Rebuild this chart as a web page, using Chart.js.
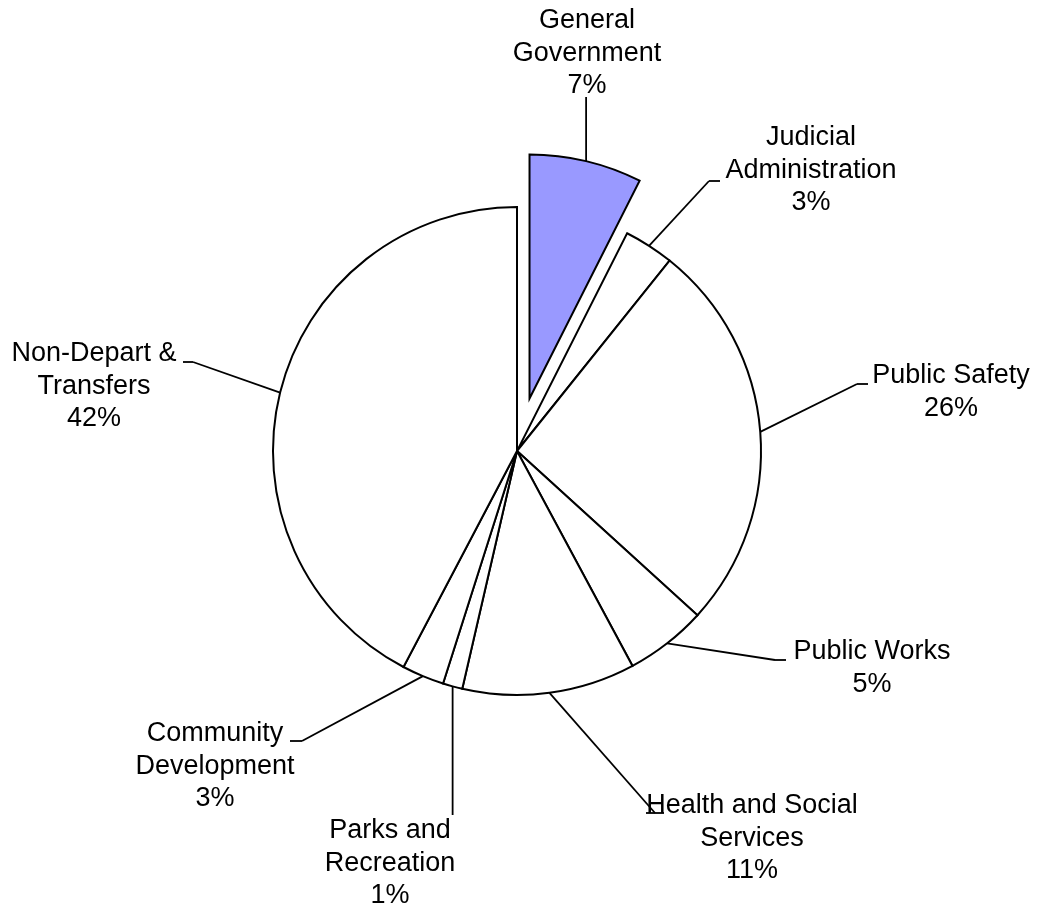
<!DOCTYPE html>
<html>
<head>
<meta charset="utf-8">
<title>General Fund Expenditures by Function</title>
<script src="https://cdn.jsdelivr.net/npm/chart.js@4/dist/chart.umd.min.js"></script>
<style>
  html, body { margin: 0; padding: 0; background: #ffffff; }
  canvas { display: block; }
</style>
</head>
<body>
<canvas id="pie" width="1039" height="909"></canvas>
<script>
// Functional areas, each wrapped onto the lines it is printed on
const categories = [
  ['General', 'Government'],
  ['Judicial', 'Administration'],
  ['Public Safety'],
  ['Public Works'],
  ['Health and Social', 'Services'],
  ['Parks and', 'Recreation'],
  ['Community', 'Development'],
  ['Non-Depart &', 'Transfers']
];

// Share of total expenditures, in percent
const shares = [7.45, 3.3, 26.0, 5.4, 11.45, 1.3, 2.8, 42.3];

// Slice pulled out of the pie (index into categories)
const explodedIndex = 0;

// ---- presentation ----
const FONT = '27px "Liberation Sans", Arial, Helvetica, sans-serif';
const LINE_H = 32.5;
const EXPLODE_PX = 54;
const fills = shares.map((_, i) => i === explodedIndex ? '#9999ff' : '#ffffff');

// Callout placement: elbow of the leader line (a null x keeps the leader
// vertical), short horizontal tick, and the centre of the first text line
const callouts = [
  { elbow: [null, 97], tick: null,       text: [587, 21] },
  { elbow: [709, 181], tick: [709, 720], text: [811, 138] },
  { elbow: [857, 384], tick: [857, 868], text: [951, 376] },
  { elbow: [775, 660], tick: [775, 786], text: [872, 652] },
  { elbow: [655, 813], tick: [646, 664], text: [752, 806] },
  { elbow: [null, 815], tick: null,      text: [390, 831] },
  { elbow: [302, 741], tick: [290, 302], text: [215, 734] },
  { elbow: [193, 362], tick: [183, 193], text: [94, 354] }
];

// Pull the exploded slice outward along its bisector while it is drawn,
// keeping its radius and angles identical to the other slices.
const explodeSlice = {
  id: 'explodeSlice',
  beforeDatasetDraw(chart, args) {
    const arc = args.meta.data[explodedIndex];
    if (!arc) return;
    const mid = (arc.startAngle + arc.endAngle) / 2;
    arc.$home = [arc.x, arc.y];
    arc.x += Math.cos(mid) * EXPLODE_PX;
    arc.y += Math.sin(mid) * EXPLODE_PX;
  },
  afterDatasetDraw(chart, args) {
    const arc = args.meta.data[explodedIndex];
    if (arc && arc.$home) {
      arc.x = arc.$home[0];
      arc.y = arc.$home[1];
      delete arc.$home;
    }
  }
};

// Leader lines and labels with the rounded percentage
const calloutLabels = {
  id: 'calloutLabels',
  afterDatasetsDraw(chart) {
    const ctx = chart.ctx;
    const meta = chart.getDatasetMeta(0);
    const values = chart.data.datasets[0].data;
    const total = values.reduce((a, b) => a + b, 0);
    ctx.save();
    ctx.strokeStyle = '#000000';
    ctx.lineWidth = 1.8;
    ctx.fillStyle = '#000000';
    ctx.font = FONT;
    ctx.textAlign = 'center';
    ctx.textBaseline = 'middle';
    meta.data.forEach((arc, i) => {
      const c = callouts[i];
      const mid = (arc.startAngle + arc.endAngle) / 2;
      const r = arc.outerRadius + (i === explodedIndex ? EXPLODE_PX : 0);
      const sx = arc.x + Math.cos(mid) * r;
      const sy = arc.y + Math.sin(mid) * r;
      const ex = c.elbow[0] === null ? sx : c.elbow[0];
      const ey = c.elbow[1];
      ctx.beginPath();
      ctx.moveTo(sx, sy);
      ctx.lineTo(ex, ey);
      ctx.stroke();
      if (c.tick) {
        ctx.beginPath();
        ctx.moveTo(c.tick[0], ey);
        ctx.lineTo(c.tick[1], ey);
        ctx.stroke();
      }
      const lines = [].concat(chart.data.labels[i]);
      lines.push(Math.round(values[i] / total * 100) + '%');
      lines.forEach((t, k) => ctx.fillText(t, c.text[0], c.text[1] + k * LINE_H));
    });
    ctx.restore();
  }
};

new Chart(document.getElementById('pie'), {
  type: 'pie',
  data: {
    labels: categories,
    datasets: [{
      data: shares,
      backgroundColor: fills,
      borderColor: '#000000',
      borderWidth: 2,
      borderJoinStyle: 'miter',
      radius: 244
    }]
  },
  options: {
    responsive: false,
    animation: false,
    events: [],
    rotation: 0,
    layout: { padding: { left: 0, right: 5, top: 0, bottom: 7 } },
    plugins: {
      legend: { display: false },
      tooltip: { enabled: false }
    }
  },
  plugins: [explodeSlice, calloutLabels]
});
</script>
</body>
</html>
